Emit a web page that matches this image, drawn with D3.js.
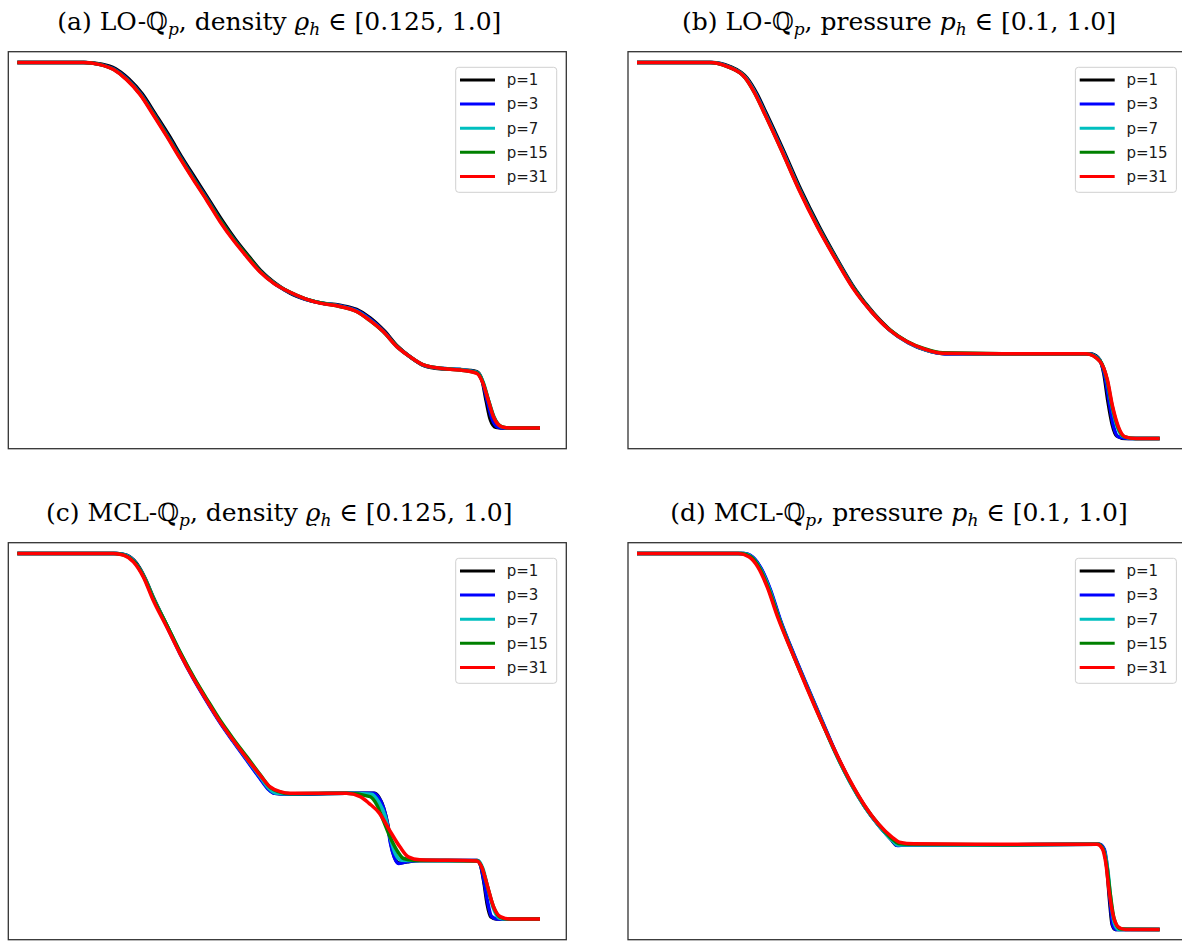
<!DOCTYPE html>
<html>
<head>
<meta charset="utf-8">
<script src="https://cdn.jsdelivr.net/npm/d3@7"></script>
<style>
  body { margin: 0; background: #fff; }
  svg { display: block; }
</style>
</head>
<body>
<div class="content"></div>
<script>
////////// data /////////
// x is position in the tube [0,1], y is density or pressure
var seriesNames = ['p=1', 'p=3', 'p=7', 'p=15', 'p=31'];
var seriesColors = ['#000000', '#0000ff', '#00bfbf', '#008000', '#ff0000'];

// (a) LO, density
var loRhoP1 = [[0,1],[0.130,1],[0.162,0.996],[0.188,0.985],[0.213,0.961],[0.239,0.925],[0.264,0.877],[0.290,0.826],[0.315,0.773],[0.341,0.722],[0.366,0.673],[0.392,0.622],[0.417,0.577],[0.443,0.536],[0.468,0.499],[0.494,0.471],[0.522,0.448],[0.550,0.434],[0.579,0.425],[0.617,0.419],[0.649,0.409],[0.675,0.389],[0.702,0.358],[0.728,0.320],[0.753,0.294],[0.779,0.274],[0.809,0.267],[0.847,0.265],[0.879,0.260],[0.889,0.240],[0.897,0.190],[0.905,0.145],[0.915,0.127],[0.935,0.125],[1,0.125]];
var loRhoP3 = [[0,1],[0.128,1],[0.160,0.995],[0.186,0.984],[0.211,0.960],[0.237,0.924],[0.262,0.876],[0.288,0.824],[0.313,0.772],[0.339,0.720],[0.364,0.672],[0.390,0.620],[0.415,0.576],[0.441,0.535],[0.466,0.499],[0.492,0.471],[0.522,0.449],[0.550,0.434],[0.579,0.425],[0.617,0.418],[0.649,0.407],[0.674,0.387],[0.701,0.357],[0.727,0.320],[0.752,0.295],[0.778,0.275],[0.809,0.268],[0.847,0.265],[0.879,0.258],[0.890,0.236],[0.899,0.190],[0.908,0.148],[0.920,0.127],[0.938,0.125],[1,0.125]];
var loRhoP7 = [[0,1],[0.127,1],[0.159,0.995],[0.185,0.983],[0.210,0.959],[0.236,0.923],[0.261,0.875],[0.287,0.823],[0.312,0.771],[0.338,0.719],[0.363,0.671],[0.389,0.619],[0.414,0.575],[0.440,0.535],[0.465,0.499],[0.491,0.472],[0.522,0.450],[0.550,0.435],[0.579,0.425],[0.617,0.417],[0.649,0.405],[0.673,0.385],[0.700,0.356],[0.726,0.320],[0.751,0.296],[0.777,0.276],[0.809,0.268],[0.847,0.265],[0.879,0.258],[0.891,0.236],[0.901,0.194],[0.912,0.152],[0.926,0.128],[0.942,0.125],[1,0.125]];
var loRhoP15 = [[0,1],[0.127,1],[0.159,0.995],[0.185,0.983],[0.210,0.959],[0.236,0.923],[0.261,0.876],[0.287,0.824],[0.312,0.772],[0.338,0.720],[0.363,0.672],[0.389,0.621],[0.414,0.577],[0.440,0.537],[0.465,0.500],[0.491,0.472],[0.522,0.450],[0.550,0.435],[0.579,0.425],[0.617,0.416],[0.649,0.404],[0.673,0.384],[0.700,0.356],[0.726,0.321],[0.751,0.296],[0.777,0.276],[0.809,0.268],[0.847,0.264],[0.879,0.257],[0.891,0.234],[0.901,0.193],[0.912,0.150],[0.928,0.128],[0.945,0.125],[1,0.125]];
var loRhoP31 = [[0,1],[0.126,1],[0.158,0.995],[0.184,0.983],[0.209,0.959],[0.235,0.923],[0.260,0.875],[0.286,0.823],[0.311,0.771],[0.337,0.719],[0.362,0.671],[0.388,0.619],[0.413,0.575],[0.439,0.535],[0.464,0.499],[0.490,0.472],[0.522,0.450],[0.550,0.435],[0.579,0.424],[0.617,0.416],[0.649,0.404],[0.673,0.384],[0.700,0.356],[0.726,0.320],[0.751,0.296],[0.777,0.276],[0.809,0.268],[0.847,0.264],[0.879,0.256],[0.891,0.232],[0.901,0.192],[0.911,0.152],[0.927,0.128],[0.943,0.125],[1,0.125]];

// (b) LO, pressure
var loPresP1 = [[0,1],[0.143,1],[0.177,0.991],[0.211,0.962],[0.229,0.926],[0.246,0.882],[0.280,0.790],[0.314,0.694],[0.349,0.606],[0.383,0.529],[0.417,0.458],[0.452,0.401],[0.486,0.358],[0.520,0.329],[0.554,0.311],[0.590,0.303],[0.700,0.303],[0.866,0.303],[0.882,0.294],[0.893,0.256],[0.901,0.188],[0.909,0.134],[0.918,0.106],[0.934,0.100],[1,0.100]];
var loPresP3 = [[0,1],[0.141,1],[0.175,0.990],[0.209,0.962],[0.227,0.926],[0.244,0.882],[0.278,0.790],[0.312,0.694],[0.347,0.606],[0.381,0.530],[0.415,0.459],[0.450,0.402],[0.484,0.359],[0.518,0.330],[0.552,0.312],[0.588,0.303],[0.700,0.303],[0.864,0.303],[0.883,0.291],[0.895,0.250],[0.904,0.182],[0.912,0.128],[0.921,0.104],[0.940,0.100],[1,0.100]];
var loPresP7 = [[0,1],[0.140,1],[0.174,0.990],[0.208,0.963],[0.226,0.927],[0.243,0.883],[0.277,0.791],[0.311,0.695],[0.346,0.607],[0.380,0.531],[0.414,0.460],[0.449,0.403],[0.483,0.360],[0.517,0.331],[0.551,0.313],[0.586,0.304],[0.700,0.303],[0.862,0.303],[0.885,0.288],[0.898,0.246],[0.908,0.180],[0.918,0.130],[0.930,0.105],[0.950,0.100],[1,0.100]];
var loPresP15 = [[0,1],[0.139,1],[0.173,0.990],[0.207,0.963],[0.225,0.927],[0.242,0.884],[0.276,0.792],[0.310,0.697],[0.345,0.609],[0.379,0.533],[0.413,0.462],[0.448,0.405],[0.482,0.362],[0.516,0.333],[0.550,0.315],[0.585,0.305],[0.700,0.303],[0.860,0.303],[0.886,0.285],[0.899,0.242],[0.909,0.178],[0.920,0.128],[0.933,0.104],[0.953,0.100],[1,0.100]];
var loPresP31 = [[0,1],[0.139,1],[0.173,0.990],[0.207,0.963],[0.225,0.927],[0.242,0.883],[0.276,0.791],[0.310,0.695],[0.345,0.607],[0.379,0.531],[0.413,0.460],[0.448,0.404],[0.482,0.361],[0.516,0.332],[0.550,0.314],[0.585,0.304],[0.700,0.303],[0.859,0.303],[0.886,0.284],[0.900,0.240],[0.910,0.176],[0.921,0.128],[0.934,0.104],[0.955,0.100],[1,0.100]];

// (c) MCL, density
var mclRhoP1 = [[0,1],[0.191,1],[0.209,0.996],[0.227,0.978],[0.244,0.942],[0.261,0.893],[0.287,0.826],[0.312,0.761],[0.338,0.700],[0.363,0.647],[0.389,0.595],[0.414,0.550],[0.440,0.505],[0.465,0.462],[0.481,0.436],[0.493,0.426],[0.522,0.424],[0.630,0.426],[0.683,0.426],[0.692,0.416],[0.701,0.390],[0.709,0.350],[0.715,0.304],[0.722,0.272],[0.730,0.259],[0.746,0.262],[0.770,0.265],[0.880,0.265],[0.886,0.255],[0.893,0.210],[0.899,0.160],[0.906,0.130],[0.916,0.125],[1,0.125]];
var mclRhoP3 = [[0,1],[0.190,1],[0.208,0.996],[0.226,0.978],[0.243,0.942],[0.260,0.893],[0.286,0.826],[0.311,0.761],[0.337,0.700],[0.362,0.647],[0.388,0.595],[0.413,0.550],[0.439,0.505],[0.464,0.462],[0.480,0.436],[0.492,0.426],[0.522,0.424],[0.630,0.426],[0.681,0.426],[0.690,0.418],[0.700,0.394],[0.708,0.354],[0.714,0.306],[0.721,0.274],[0.729,0.258],[0.745,0.262],[0.770,0.265],[0.879,0.265],[0.886,0.255],[0.893,0.215],[0.900,0.165],[0.907,0.132],[0.918,0.125],[1,0.125]];
var mclRhoP7 = [[0,1],[0.189,1],[0.207,0.996],[0.225,0.979],[0.243,0.943],[0.261,0.891],[0.287,0.826],[0.312,0.762],[0.338,0.701],[0.363,0.648],[0.389,0.596],[0.414,0.551],[0.440,0.507],[0.465,0.465],[0.481,0.438],[0.494,0.427],[0.522,0.425],[0.630,0.426],[0.678,0.424],[0.691,0.406],[0.704,0.370],[0.713,0.322],[0.723,0.282],[0.735,0.266],[0.758,0.265],[0.882,0.264],[0.891,0.245],[0.901,0.195],[0.911,0.150],[0.921,0.128],[0.934,0.125],[1,0.125]];
var mclRhoP15 = [[0,1],[0.187,1],[0.205,0.996],[0.224,0.980],[0.242,0.944],[0.261,0.890],[0.287,0.826],[0.312,0.763],[0.338,0.703],[0.363,0.651],[0.389,0.599],[0.414,0.555],[0.440,0.512],[0.465,0.470],[0.484,0.440],[0.500,0.430],[0.522,0.425],[0.630,0.426],[0.675,0.418],[0.688,0.398],[0.700,0.362],[0.713,0.322],[0.726,0.290],[0.739,0.270],[0.758,0.266],[0.880,0.264],[0.889,0.248],[0.899,0.205],[0.911,0.155],[0.923,0.130],[0.938,0.125],[1,0.125]];
var mclRhoP31 = [[0,1],[0.184,1],[0.203,0.996],[0.222,0.980],[0.241,0.944],[0.260,0.888],[0.286,0.824],[0.311,0.761],[0.337,0.701],[0.362,0.649],[0.388,0.597],[0.413,0.553],[0.439,0.510],[0.464,0.470],[0.483,0.442],[0.503,0.430],[0.522,0.426],[0.630,0.426],[0.656,0.418],[0.673,0.402],[0.693,0.378],[0.712,0.338],[0.732,0.298],[0.748,0.274],[0.770,0.267],[0.879,0.264],[0.888,0.251],[0.898,0.211],[0.911,0.155],[0.924,0.131],[0.943,0.125],[1,0.125]];

// (d) MCL, pressure
var mclPresP1 = [[0,1],[0.203,1],[0.221,0.991],[0.237,0.964],[0.254,0.915],[0.273,0.843],[0.300,0.757],[0.327,0.677],[0.354,0.598],[0.381,0.520],[0.408,0.452],[0.436,0.393],[0.463,0.348],[0.486,0.316],[0.497,0.302],[0.512,0.302],[0.700,0.303],[0.884,0.304],[0.893,0.292],[0.899,0.245],[0.904,0.170],[0.909,0.112],[0.915,0.100],[1,0.100]];
var mclPresP3 = [[0,1],[0.204,1],[0.222,0.991],[0.238,0.963],[0.255,0.914],[0.274,0.842],[0.301,0.756],[0.328,0.676],[0.355,0.597],[0.382,0.519],[0.409,0.451],[0.437,0.392],[0.464,0.347],[0.487,0.315],[0.498,0.301],[0.512,0.302],[0.700,0.303],[0.885,0.304],[0.894,0.292],[0.900,0.245],[0.905,0.170],[0.910,0.112],[0.916,0.100],[1,0.100]];
var mclPresP7 = [[0,1],[0.202,1],[0.220,0.991],[0.236,0.964],[0.253,0.916],[0.272,0.844],[0.299,0.758],[0.326,0.678],[0.353,0.599],[0.380,0.521],[0.407,0.454],[0.435,0.395],[0.462,0.350],[0.487,0.315],[0.499,0.302],[0.515,0.302],[0.700,0.303],[0.883,0.304],[0.893,0.290],[0.901,0.240],[0.907,0.165],[0.913,0.115],[0.921,0.100],[1,0.100]];
var mclPresP15 = [[0,1],[0.199,1],[0.218,0.992],[0.234,0.966],[0.251,0.918],[0.271,0.846],[0.298,0.760],[0.325,0.680],[0.352,0.601],[0.380,0.523],[0.407,0.456],[0.435,0.397],[0.462,0.352],[0.488,0.317],[0.500,0.306],[0.520,0.304],[0.700,0.303],[0.882,0.304],[0.892,0.292],[0.899,0.250],[0.906,0.180],[0.913,0.125],[0.925,0.101],[1,0.100]];
var mclPresP31 = [[0,1],[0.194,1],[0.214,0.992],[0.231,0.968],[0.249,0.920],[0.269,0.848],[0.297,0.762],[0.324,0.681],[0.351,0.603],[0.379,0.527],[0.406,0.460],[0.434,0.400],[0.461,0.354],[0.489,0.320],[0.502,0.309],[0.530,0.305],[0.700,0.304],[0.880,0.304],[0.890,0.294],[0.897,0.258],[0.903,0.194],[0.910,0.139],[0.920,0.107],[0.934,0.100],[1,0.100]];

////////// panel table /////////
var panels = [
  { tag: 'a', scheme: 'LO', quantity: 'density', sym: '\u03F1', range: '[0.125, 1.0]',
    left: 8.3, top: 51.7, series: [loRhoP1, loRhoP3, loRhoP7, loRhoP15, loRhoP31] },
  { tag: 'b', scheme: 'LO', quantity: 'pressure', sym: 'p', range: '[0.1, 1.0]',
    left: 628, top: 51.7, series: [loPresP1, loPresP3, loPresP7, loPresP15, loPresP31] },
  { tag: 'c', scheme: 'MCL', quantity: 'density', sym: '\u03F1', range: '[0.125, 1.0]',
    left: 8.3, top: 542.7, series: [mclRhoP1, mclRhoP3, mclRhoP7, mclRhoP15, mclRhoP31] },
  { tag: 'd', scheme: 'MCL', quantity: 'pressure', sym: 'p', range: '[0.1, 1.0]',
    left: 628, top: 542.7, series: [mclPresP1, mclPresP3, mclPresP7, mclPresP15, mclPresP31] }
];

var boxW = 558, boxH = 397;

var x = d3.scaleLinear().domain([0, 1]).range([9, 531.7]);
var y = d3.scaleLinear().domain([0, 1]).range([428.6, 10.8]);

var line = d3.line()
  .x(function(d) { return x(d[0]); })
  .y(function(d) { return y(d[1]); })
  .curve(d3.curveMonotoneX);

////////// svg /////////
var svg = d3.select('.content').append('svg')
  .attr('width', 1182)
  .attr('height', 943);

panels.forEach(function(p, i) {
  var g = svg.append('g')
    .attr('transform', 'translate(' + p.left + ',' + p.top + ')');

  // title, centred over the box
  var title = g.append('text')
    .attr('x', boxW / 2 - 8)
    .attr('y', -22)
    .attr('text-anchor', 'middle')
    .style('font-family', '"DejaVu Serif", serif')
    .style('font-size', '25px')
    .style('fill', '#000');
  title.append('tspan').text('(' + p.tag + ') ' + p.scheme + '-\u211A');
  title.append('tspan').attr('dy', 5).style('font-style', 'italic').style('font-size', '17px').text('p');
  title.append('tspan').attr('dy', -5).text(', ' + p.quantity + ' ');
  title.append('tspan').style('font-style', 'italic').text(p.sym);
  title.append('tspan').attr('dy', 5).style('font-style', 'italic').style('font-size', '17px').text('h');
  title.append('tspan').attr('dy', -5).text(' \u2208 ' + p.range);

  g.append('clipPath').attr('id', 'clip' + i)
    .append('rect').attr('width', boxW).attr('height', boxH);

  var plot = g.append('g').attr('clip-path', 'url(#clip' + i + ')');
  plot.selectAll('path.curve')
    .data(p.series)
    .enter().append('path')
    .attr('class', 'curve')
    .attr('d', line)
    .style('fill', 'none')
    .style('stroke', function(d, k) { return seriesColors[k]; })
    .style('stroke-width', 3.5)
    .style('stroke-linejoin', 'round');

  // frame
  g.append('rect')
    .attr('x', 0).attr('y', 0)
    .attr('width', boxW).attr('height', boxH)
    .style('fill', 'none')
    .style('stroke', '#333')
    .style('stroke-width', 1.3);

  // legend
  var leg = g.append('g').attr('transform', 'translate(447.4,15.6)');
  leg.append('rect')
    .attr('width', 101).attr('height', 125)
    .attr('rx', 3)
    .style('fill', 'white').style('fill-opacity', 0.8)
    .style('stroke', '#d0d0d0').style('stroke-width', 1);
  var rows = leg.selectAll('g.row')
    .data(seriesNames)
    .enter().append('g')
    .attr('class', 'row')
    .attr('transform', function(d, k) { return 'translate(0,' + (12.7 + k * 24.1) + ')'; });
  rows.append('line')
    .attr('x1', 4.3).attr('x2', 39.3)
    .style('stroke', function(d, k) { return seriesColors[k]; })
    .style('stroke-width', 3);
  rows.append('text')
    .attr('x', 51)
    .attr('y', 5.3)
    .style('font-family', '"DejaVu Sans", sans-serif')
    .style('font-size', '15px')
    .style('fill', '#1a1a1a')
    .text(function(d) { return d; });
});
</script>
</body>
</html>
